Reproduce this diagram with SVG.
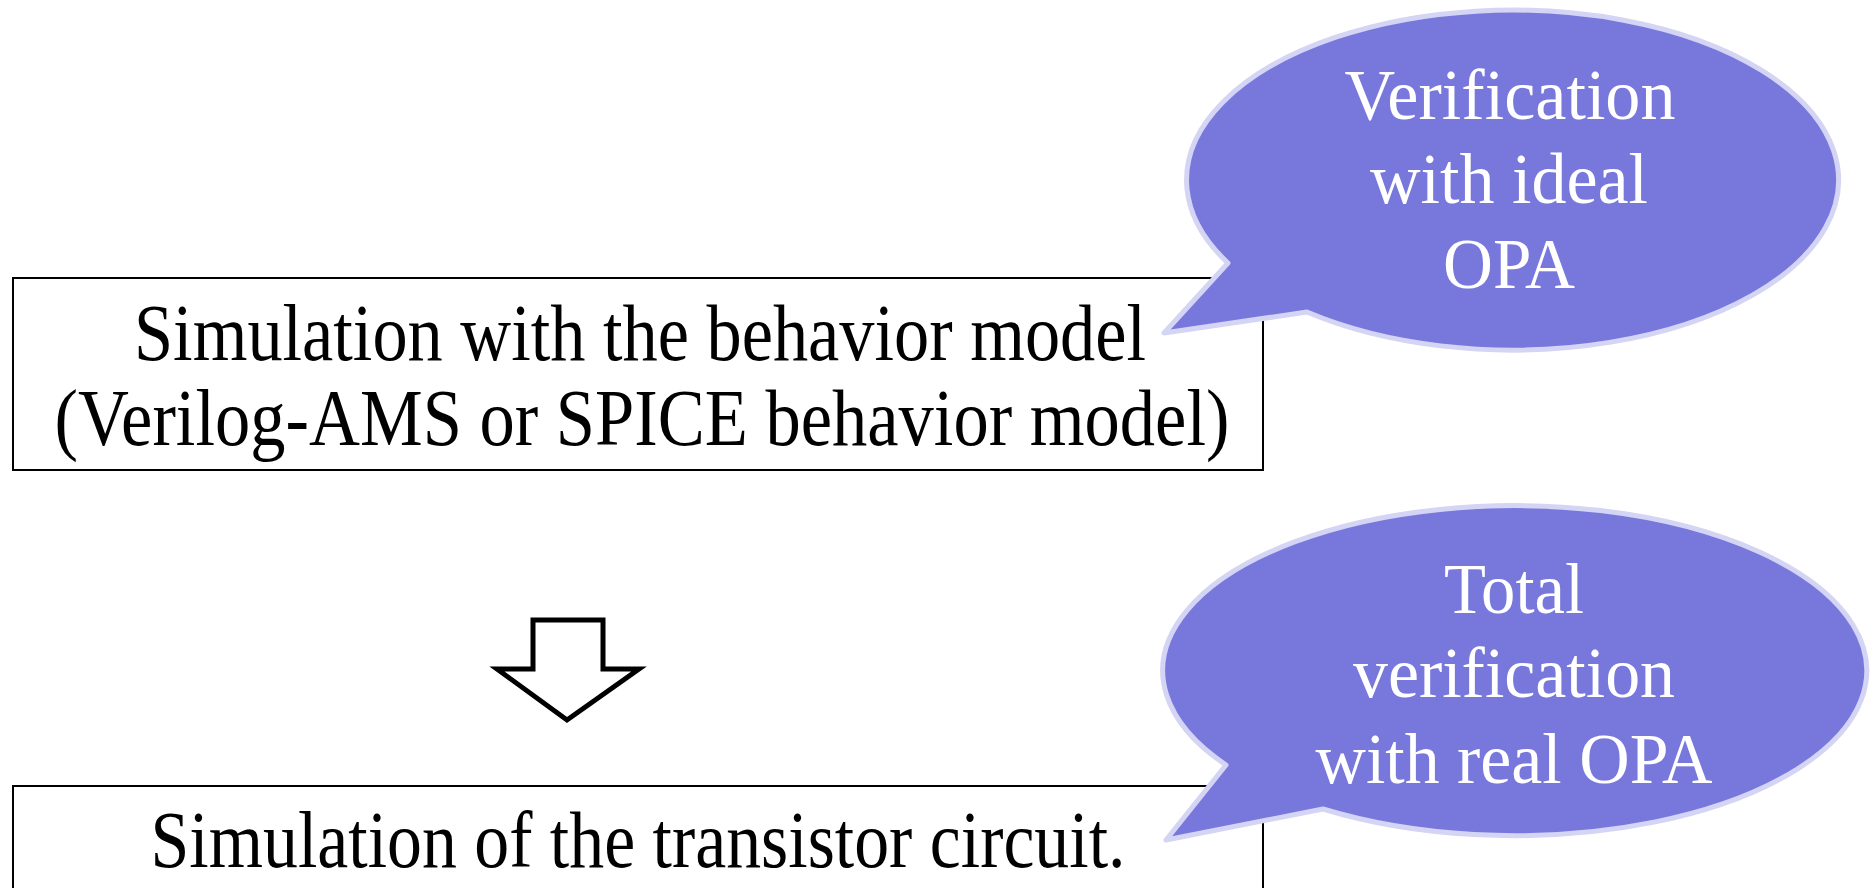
<svg xmlns="http://www.w3.org/2000/svg" width="1872" height="888" viewBox="0 0 1872 888">
<style>
.box{fill:#fff;stroke:#000;stroke-width:2}
.main{font-family:"Liberation Serif","Times New Roman",serif;font-size:81px;fill:#000;text-anchor:middle}
.bub{fill:#7878DC;stroke:#D4D4F4;stroke-width:5;stroke-linejoin:round}
.bt{font-family:"Liberation Serif","Times New Roman",serif;font-size:72px;fill:#fff;text-anchor:middle}
.arrow{fill:#fff;stroke:#000;stroke-width:5;stroke-linejoin:miter}
</style>
<rect width="1872" height="888" fill="#fff"/>
<g id="box1">
<rect class="box" x="13" y="278" width="1250" height="192"/>
<text class="main" x="640" y="360" textLength="1012" lengthAdjust="spacingAndGlyphs">Simulation with the behavior model</text>
<text class="main" x="642" y="445" textLength="1175" lengthAdjust="spacingAndGlyphs">(Verilog-AMS or SPICE behavior model)</text>
</g>
<g id="connectors">
<polygon class="arrow" points="533,620 603,620 603,669 639,669 567,720 497,669 533,669"/>
</g>
<g id="box2">
<rect class="box" x="13" y="786" width="1250" height="130"/>
<text class="main" x="638" y="867" textLength="975" lengthAdjust="spacingAndGlyphs">Simulation of the transistor circuit.</text>
</g>
<g id="bubble1">
<path class="bub" d="M1228,263 L1164,333 L1307,312 A326,170 0 1 0 1228,263 Z"/>
<text class="bt" x="1510" y="119" textLength="331" lengthAdjust="spacingAndGlyphs">Verification</text>
<text class="bt" x="1509" y="203" textLength="278" lengthAdjust="spacingAndGlyphs">with ideal</text>
<text class="bt" x="1509" y="288" textLength="132" lengthAdjust="spacingAndGlyphs">OPA</text>
</g>
<g id="bubble2">
<path class="bub" d="M1226,765 L1166,840 L1323,809 A352,165 0 1 0 1226,765 Z"/>
<text class="bt" x="1514" y="613" textLength="140" lengthAdjust="spacingAndGlyphs">Total</text>
<text class="bt" x="1514" y="697" textLength="322" lengthAdjust="spacingAndGlyphs">verification</text>
<text class="bt" x="1514" y="783" textLength="397" lengthAdjust="spacingAndGlyphs">with real OPA</text>
</g>
</svg>
